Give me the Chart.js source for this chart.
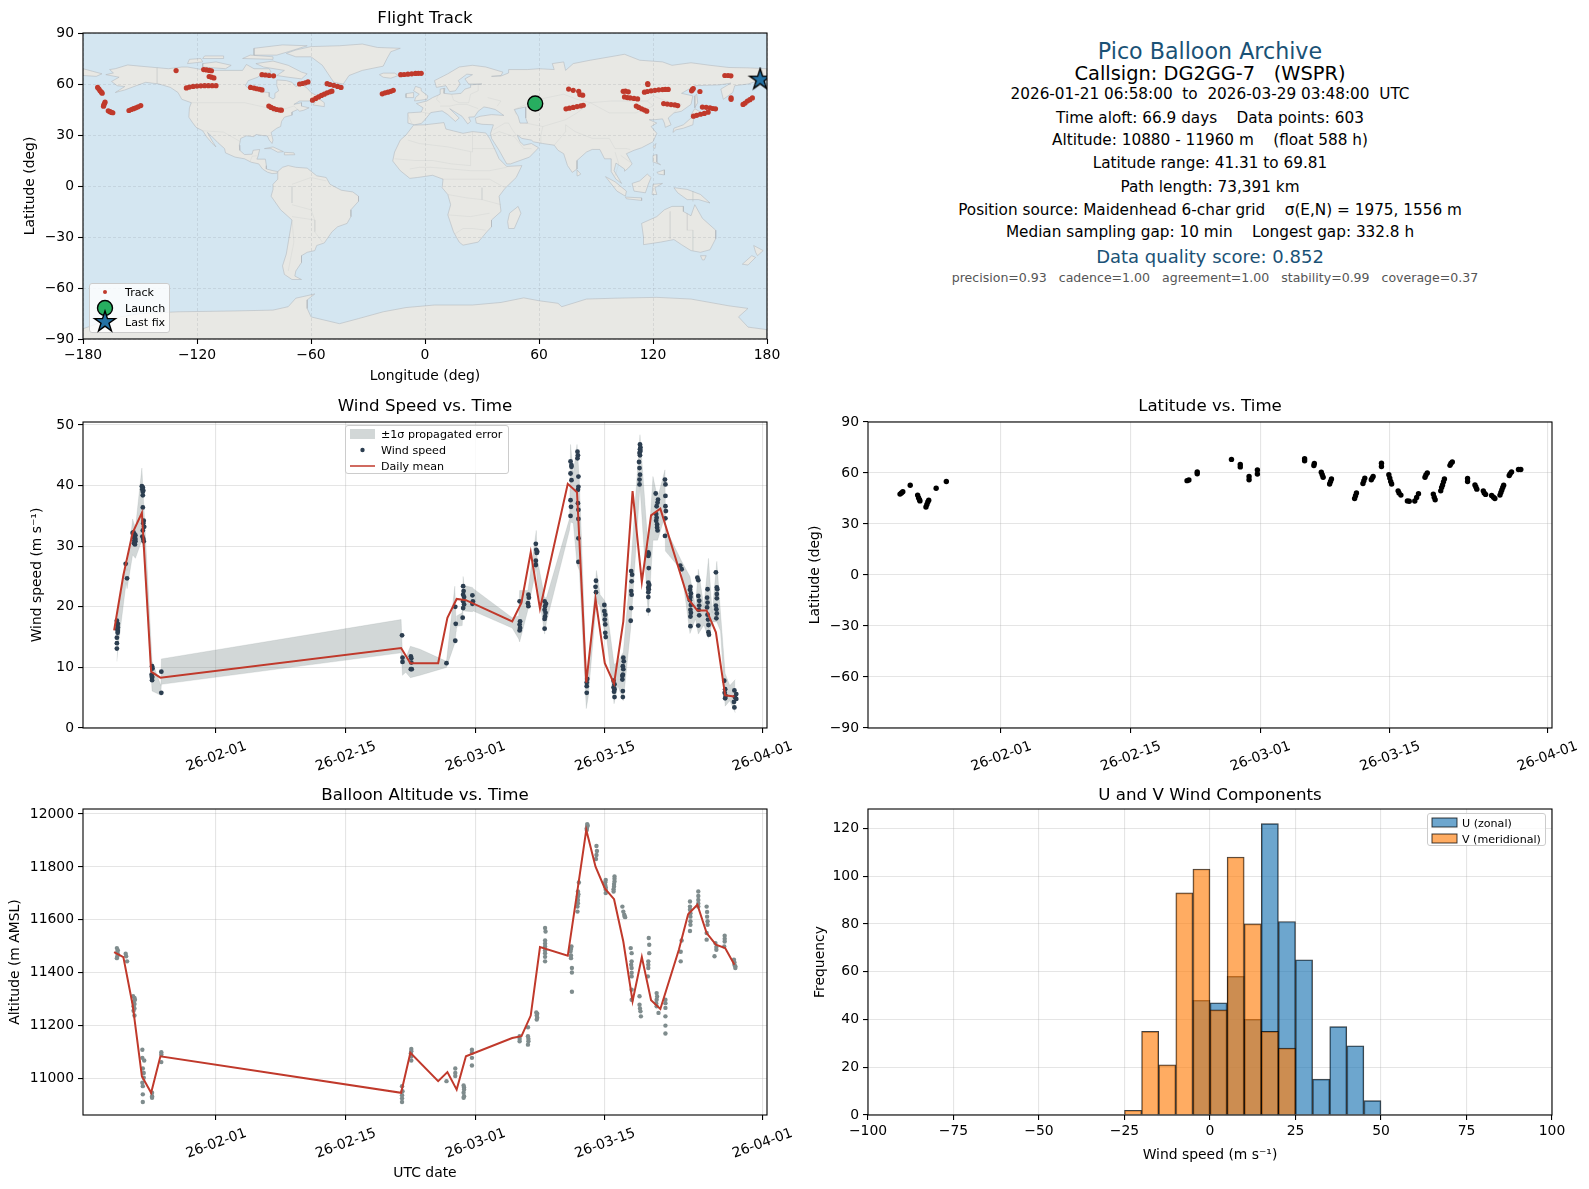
<!DOCTYPE html>
<html>
<head>
<meta charset="utf-8">
<title>Pico Balloon Archive</title>
<script src="https://cdn.jsdelivr.net/npm/chart.js@4/dist/chart.umd.min.js"></script>
<style>
html, body { margin: 0; padding: 0; background: #fff; overflow: hidden; }
#page { position: relative; width: 1589px; height: 1189px; font-family: "DejaVu Sans", sans-serif; overflow: hidden; }
canvas { position: absolute; }
.info { position: absolute; left: 868px; width: 684px; text-align: center; transform: translateY(-50%); white-space: pre; }
.legend { position: absolute; background: rgba(255,255,255,.8); border: 1px solid #ccc; border-radius: 3px; box-sizing: border-box; font-size: 11.1px; color: #000; }
.legend span { position: absolute; transform: translateY(-50%); white-space: nowrap; }
.legend svg { position: absolute; left: 0; top: 0; overflow: visible; }
</style>
</head>
<body>
<div id="page"></div>
<script>
// ---- data ----
const lonTicks = [-180, -120, -60, 0, 60, 120, 180];
const latTicks = [-90, -60, -30, 0, 30, 60, 90];
const dateTicks = [31, 45, 59, 73, 90]; // days since 2026-01-01
const dateLabels = ['26-02-01', '26-02-15', '26-03-01', '26-03-15', '26-04-01'];
const windTicks = [0, 10, 20, 30, 40, 50];
const altTicks = [11000, 11200, 11400, 11600, 11800, 12000];
const histXTicks = [-100, -75, -50, -25, 0, 25, 50, 75, 100];
const histYTicks = [0, 20, 40, 60, 80, 100, 120];

// flight track, [lon, lat]
const trackPoints = [
  [-172.3,58],[-171.6,57],[-171,56],[-170.3,55.2],[-169.9,54.6],
  [-168.4,49.3],[-168.7,48.5],[-169.1,47.6],[-169.2,46.9],
  [-166.7,44.2],[-165.8,43.7],[-165,43.3],[-164.3,43.1],
  [-155.8,44.4],[-154.6,45],[-153.4,45.5],[-152.2,46],[-151,46.6],[-149.6,47.3],
  [-131,67.9],
  [-116.5,68.5],[-115,68.3],[-113.5,68],[-112.4,67.8],
  [-113.6,64.4],[-112.4,64],[-111.1,63.6],
  [-125.6,57.7],[-124,58.2],[-122,58.6],[-120,58.8],[-118,58.9],[-116,59],[-114,59],[-112,59],[-110,59],
  [-91.8,58],[-90,57.6],[-88.5,57.2],[-87,56.9],[-85.8,56.5],
  [-85.8,65.5],[-84,65.3],[-82,65],[-79.7,64.8],
  [-82.2,47],[-81,46.2],[-79.5,45.5],[-78,45],[-76.5,44.7],[-75.6,44.6],
  [-66,60],[-64.5,60.3],[-63,60.7],[-61.6,61.2],
  [-59.2,50.5],[-57.5,51.5],[-56,52.4],[-54.5,53.3],[-53,54],[-51.5,54.8],[-50,55.4],[-49,55.8],
  [-51.5,60.2],[-50,59.7],[-48,59.2],[-46,58.6],[-44.2,58],
  [-22.5,54.2],[-21,54.8],[-19.5,55.2],[-18,55.7],[-16.7,56.3],
  [-12.8,65.5],[-11,65.6],[-9,65.8],[-7,66],[-5,66.2],[-3.5,66.3],[-2,66.3],
  [74.2,45.4],[76,45.8],[78,46.2],[80,46.7],[82,47.1],[83.3,47.5],
  [75.6,57],[78,56.3],[80.9,55.7],[81.5,53.8],[83,53.4],
  [104.3,55.7],[105.5,55.8],[107,55.4],
  [105,52.4],[106.5,52],[108,51.8],[110,51.5],[111.9,51.2],
  [111.2,47],[112.5,46.2],[114,45.4],[115.5,44.7],[116.7,44],
  [117.2,60.3],[117.3,59.7],
  [115.5,55.2],[117,55.6],[119,56],[121,56.3],[123,56.6],[125,56.7],[126.5,56.8],[128,56.8],
  [125.6,48.5],[127.5,48.2],[129.5,47.9],[131.5,47.7],[133,47.3],
  [140.3,56],[140.8,56.8],[141.2,57.3],[144.7,55.6],
  [146,46.4],[148,46.3],[150,46],[151.5,45.6],[152.9,45.4],
  [141.3,41.1],[143,41.6],[145,42.2],[147,42.7],[149,43.4],
  [161.1,51.9],[161.1,51],
  [157.8,65],[159.5,65],[161,64.8],
  [167.4,48],[168.5,48.8],[169.7,50],[171,50.8],[172.3,51.8]
];
const launchPoint = [[58, 48.5]];
const lastFixPoint = [[176.4, 62.6]];

// coastlines, [lon, lat]
const northAmerica = [[-168,65.5],[-164,66.5],[-166,68.5],[-163,69],[-156.5,71.2],[-150,70.5],[-141,69.6],[-135,69],[-128,70],[-125,70],[-115,68],[-108,68],[-100,68],[-96,68],[-94,71.5],[-90,69],[-86,69],[-82,69],[-81,67],[-86,66],[-88,64],[-93,62],[-94.5,59],[-92.5,57],[-88,56.5],[-85,55.3],[-82,55],[-82,52.5],[-80,51.2],[-79,52],[-79,54.5],[-77,56],[-78,59],[-78,62.4],[-73,62],[-70,61],[-68,58.5],[-65,60],[-62,57.5],[-60,55],[-56,52.5],[-60,50],[-66,50],[-69,48],[-65,49],[-65,47],[-61,46],[-64,44.5],[-66,44],[-67,45],[-70,43.5],[-70,41.7],[-74,40.5],[-75.5,38],[-76,35],[-78,34],[-81,31.5],[-80,27],[-80.5,25],[-82,27],[-83,29.5],[-85,29.6],[-89,30.3],[-90,29],[-94,29.5],[-97,28],[-97.7,24],[-97.5,21],[-95,18.5],[-91,18.7],[-90.5,21],[-87,21.5],[-88,17],[-88.5,15.8],[-84,15.8],[-83.5,12],[-83.5,10],[-80,9],[-77.5,8.5],[-78,7.5],[-80.5,7.3],[-83,8.2],[-85.5,10],[-87.5,13],[-91.5,14],[-95,16],[-100,17],[-105,19.5],[-105.5,22],[-109,25.5],[-112.5,29.5],[-114.5,31.5],[-112,26.5],[-110,23],[-112,25],[-115,29],[-117,32.5],[-120.5,34.5],[-122.5,37.5],[-124.3,40.5],[-124,46],[-123,49],[-128,51],[-130,55],[-134,58],[-140,60],[-147,61],[-152,59],[-158,56.5],[-163,55],[-158,58.5],[-162,59],[-165,61.5],[-161,64]];
const greenland = [[-73,78],[-68,76],[-60,76],[-54,71],[-51,66],[-48,61],[-43,60],[-40,65],[-33,68],[-22,70.5],[-20,75],[-18,79],[-13,81],[-25,81.5],[-33,83.5],[-45,82.5],[-60,82],[-68,80]];
const baffin = [[-80,73.5],[-72,71],[-65,67],[-62,66],[-65,63],[-72,64],[-78,65],[-74,68],[-85,70],[-89,72]];
const victoria = [[-117,70],[-105,69],[-102,71],[-110,73],[-117,72]];
const ellesmere = [[-90,77],[-78,77],[-72,79],[-62,82.5],[-75,83],[-90,81]];
const banks = [[-125,72],[-117,73],[-118,75],[-124,74.5]];
const devon = [[-96,75],[-80,74.5],[-80,76],[-92,77]];
const melville = [[-117,75],[-106,75],[-106,76.5],[-116,76.5]];
const newfoundland = [[-59,47.7],[-53,46.7],[-53,49],[-56,51.5]];
const iceland = [[-24,65.5],[-22,64],[-18,63.4],[-14,65],[-16,66.4],[-22,66.4]];
const cuba = [[-84.5,22],[-80,23],[-74.5,20.2],[-77.5,19.9],[-81,22]];
const hispaniola = [[-74,19.8],[-69,19.5],[-68.5,18.4],[-74,18.3]];
const britain = [[-5.5,50],[1,51],[1.5,53],[-2,56],[-2,57.5],[-5,58.6],[-6,56],[-3,54],[-5,52]];
const ireland = [[-10,52],[-6,52],[-6,55],[-10,54.3]];
const southAmerica = [[-77.5,8.5],[-75,11],[-72,12],[-68,11],[-62,10.5],[-57,6],[-52,5],[-50,1],[-44,-2.5],[-38,-3.5],[-35,-6],[-35,-9],[-39,-14],[-39,-18],[-41,-22],[-46,-24],[-49,-27],[-53,-33.5],[-57,-35],[-58,-38],[-62,-39],[-65,-41],[-65,-45],[-68,-50],[-68.5,-53],[-65,-55],[-70,-55],[-74,-52],[-75,-47],[-73,-40],[-71.5,-30],[-70,-20],[-76,-14],[-81,-6],[-80,-2],[-80,1],[-77.5,4]];
const africa = [[-6,35.8],[0,36],[10,37.3],[11,33.5],[15,32.4],[20,31],[25,32],[32,31.2],[34,28],[37,21],[39,16],[43,11.5],[51,12],[48,5],[42,-1.5],[39,-6],[40,-15],[35,-20],[35,-24],[32.5,-27],[28,-33],[20,-34.8],[18,-33],[15,-27],[12,-17],[13.5,-11],[12,-5],[9,-1],[9.5,4],[4,6.3],[-4,5],[-8,4.5],[-13,9],[-17,14.7],[-16,20],[-13,27],[-10,30]];
const madagascar = [[49,-12],[50.5,-16],[47,-25],[44,-25],[43.5,-21],[44.5,-16]];
const eurasia = [[-9,37],[-9,43],[-2,43.5],[-1,46],[-4.5,48.5],[1,50],[4,52],[8,54],[8,57],[10.5,57.5],[10,54.5],[14,54],[19,54.5],[21,57],[24,58],[24,59.5],[30,60],[23,60],[21,63],[25,65.5],[22,65.8],[17.5,62],[18.5,60],[16,56],[13,55.5],[11,59],[6,58],[5,62],[12,66],[18,70],[25,71],[32,70],[41,67],[40,65],[35,64.5],[40,64.7],[44,66.5],[44,68.5],[54,68.5],[60,69],[68,68.5],[67,72],[73,73],[74,68],[78,72],[87,74],[100,76.5],[105,77.5],[113,74],[125,73],[130,71],[140,72.5],[150,71],[160,69.7],[170,69.5],[180,69],[180,65],[177,62.5],[170,60],[163,59],[162,55],[157,51],[155.7,57],[161,60.5],[155,59.5],[142,59],[135,54.5],[141,53],[140,48],[135,44],[131,43],[128,40],[129.5,36],[126.5,34.5],[126,37],[125,39.5],[121,39],[118,39],[122,37],[119,35],[122,31],[120,26],[114,22.5],[110,21],[106,19],[109,13],[107,10.5],[105,8.7],[105,10],[100.5,13.5],[99.5,9],[103.5,1.5],[100.5,4],[98,8.5],[98,16],[94.5,16],[92,21.5],[88,21.5],[85,20],[80,15],[80,10],[77.5,8],[75,12],[73,19],[70,21],[68,24],[62,25],[57,26],[56,27],[51,28],[48.5,30],[50,26],[52,24],[56,25],[59.8,22.5],[55,17],[45,13],[43,13],[39,21],[35,28],[34.5,31],[36,36],[30,36.3],[27,37],[26.5,40],[29,41],[35,42],[41.5,41.5],[37,45],[33.5,46],[31,46.5],[28,44],[26,40.7],[23,40.5],[24,38],[22.5,36.5],[19.5,41],[13,45.5],[18,40],[16,38],[12,42],[9,44.2],[3,43.2],[0,39],[-2,36.8],[-5.5,36]];
const chukotkaTip = [[-180,69],[-175,67.5],[-170,66],[-173,64.5],[-180,65]];
const honshu = [[130.5,31.5],[131,34],[136,36],[140,40],[141.5,41],[141,36],[136,34],[132,33]];
const hokkaido = [[140,42],[142,45.5],[145,43.5],[141.5,42]];
const sakhalin = [[142,46],[143.5,49],[143,54],[142,53]];
const taiwan = [[120,23],[121.5,25],[121,22]];
const luzon = [[120,18],[122,18.5],[122,14],[124,12.5],[120.5,14]];
const mindanao = [[122,8],[126,9.5],[126,6.5],[123,7]];
const borneo = [[109,1.5],[113,3],[117,7],[119,5],[117.5,1],[116,-4],[110,-3]];
const sumatra = [[95,5.5],[100,2.5],[106,-3],[105.5,-6],[101,-3]];
const java = [[105.5,-6.5],[114,-7],[114,-8.5],[106,-7.5]];
const sulawesi = [[119.5,-5],[120,1],[125,1.5],[121,-1],[122,-5]];
const newGuinea = [[131,-1],[138,-2],[145,-5],[150,-10],[144,-8],[138,-8],[133,-4]];
const australia = [[114,-22],[122,-18],[126,-14],[130,-12],[136,-12],[136,-15],[140,-17.5],[142,-11],[146,-19],[153,-26],[153,-31],[150,-37.5],[145,-39],[140,-38],[135,-34.5],[131,-31.5],[124,-33],[115,-34.5],[115,-30]];
const tasmania = [[145,-41],[148,-41],[147,-43.5],[146,-43.5]];
const nzNorth = [[173,-35],[178,-38],[175,-41],[174,-39]];
const nzSouth = [[172,-41],[174,-42],[170,-46.5],[167,-46]];
const sriLanka = [[80,9.5],[82,7],[80.5,6]];
const antarctica = [[-180,-84],[-165,-78],[-150,-75],[-130,-74],[-100,-73.5],[-80,-73],[-72,-71],[-68,-66],[-58,-63.5],[-62,-67],[-62,-72],[-60,-77],[-45,-81],[-35,-78],[-22,-74],[-10,-71.5],[5,-70],[25,-70],[40,-68.5],[52,-65.8],[60,-67.5],[70,-69],[72,-71],[85,-66.5],[100,-66],[122,-65.5],[140,-66.5],[160,-70.5],[170,-72],[165,-77],[170,-83],[180,-84.5],[180,-90],[-180,-90]];
const landMasses = [northAmerica, greenland, baffin, victoria, ellesmere, banks, devon, melville, newfoundland, iceland, cuba, hispaniola, britain, ireland, southAmerica, africa, madagascar, eurasia, chukotkaTip, honshu, hokkaido, sakhalin, taiwan, luzon, mindanao, borneo, sumatra, java, sulawesi, newGuinea, australia, tasmania, nzNorth, nzSouth, sriLanka, antarctica];
const caspian = [[47,45],[53,46.5],[53,40],[54,37],[50,37],[49,41]];
const borderLines = [
  [[-123,49],[-95,49],[-83,46],[-79,43],[-75,45],[-69,47],[-67,45]],
  [[-141,69.6],[-141,60]],
  [[-117,32.5],[-106,31.7],[-97,26]],
  [[-92,14.5],[-91,17.5],[-88.5,17.8]],
  [[-70,-18],[-58,-20],[-58,-27],[-54,-33]],
  [[-70,-20],[-69,-33],[-72,-50]],
  [[-70,-11],[-60,-14],[-58,-20]],
  [[-70,0],[-70,-10]],[[-70,1],[-60,5],[-52,3]],
  [[-9,42],[-7,37]],[[-2,43.5],[3,42.5]],[[8,49],[6,51],[7,53.5]],[[14,54],[15,50.5],[18,49],[23,49],[24,54],[28,56],[28,60]],
  [[8,47],[13,47],[17,48],[22,48],[28,45.5]],
  [[33,52],[40,50],[38,47]],
  [[48,42],[47,45],[49,46],[60,51],[73,54],[80,51],[87,49],[98,50],[107,50],[117,50],[120,53],[127,50],[135,48],[131,43]],
  [[87,49],[80,43],[74,39],[62,35],[53,37]],
  [[87,49],[97,43],[111,43],[120,47],[117,50]],
  [[74,36],[79,32],[88,28],[97,28],[100,22],[106,22],[108,21.5]],
  [[61,25],[61,30],[62,35]],[[68,24],[71,28],[74,32],[74,36]],[[44,37],[46,33],[48,30]],[[36,33],[42,37],[44,37]],[[35,30],[39,32],[47,29],[52,22],[56,22]],
  [[-9,27],[-3,25],[12,23],[25,20],[25,32]],[[25,22],[37,22]],[[-16,16],[-5,15],[4,15],[14,13],[24,12],[24,20]],
  [[-8,10],[-3,11],[3,11],[14,10],[24,9],[34,9],[43,11]],[[9,4],[15,4],[28,4],[34,4],[42,-1]],
  [[12,-5],[22,-7],[30,-8],[40,-11]],[[12,-17],[24,-18],[34,-16]],[[16,-28],[20,-25],[25,-25],[32,-26]],[[30,-1],[30,-8]],
  [[129,-15],[129,-31]],[[138,-16],[138,-26],[141,-26],[141,-38]],[[141,-3],[141,-9]],
  [[100,6],[102,13],[100,20]],[[103,18],[108,14]]
];

// wind speed vs. time, [day, m/s]
const windPoints = [
  [20.3,17.7],[20.4,17.2],[20.35,17],[20.4,16.6],[20.35,16.3],[20.4,16],[20.38,15.7],[20.3,14.9],[20.3,14],[20.3,13.1],
  [21.25,27.1],[21.4,24.7],
  [22.0,32.2],[22.1,32.3],[22.2,32],[22.3,31.8],[22.15,31.5],[22.3,31.2],[22.2,31],[22.3,30.8],[22.15,30.5],[22.25,30.3],
  [23.0,39.9],[23.1,39.7],[23.05,39.4],[23.15,39.2],[23.1,39],[23.1,38.4],[23.1,36.4],[23.2,34.2],[23.15,33.8],[23.25,33.2],[23.1,32.6],[23.05,31.6],[23.15,31.2],[23.2,30.8],
  [24.1,10.2],[24.15,9.8],[24.05,8.8],[24.1,8.5],[24.1,8.3],[24.1,7.9],
  [25.1,9.3],[25.1,5.8],
  [51.1,15.3],[51.15,11.6],[51.15,10.9],[52.05,11.8],[52.1,11.5],[52.1,10.8],[52.05,9.7],[52.15,9.7],
  [55.9,10.7],
  [56.85,20],[56.9,17.2],[56.85,14.4],
  [57.7,23.4],[57.75,22.6],[57.7,22],[57.8,21.6],[57.7,20.9],[57.8,20.4],[57.7,19.8],[57.65,18.2],
  [58.7,21.9],[58.75,20.9],[58.7,20.5],
  [63.8,20.9],[63.85,17.6],[63.8,17.1],[63.85,16.5],[63.8,16.1],
  [64.75,22],[64.8,21.5],[64.7,20.6],[64.75,20.1],
  [65.55,30.4],[65.6,29.4],[65.7,29.1],[65.65,28.9],[65.55,27.6],[65.55,26.9],
  [66.5,20.9],[66.65,20.5],[66.55,20.1],[66.5,19.5],[66.6,19],[66.55,18.4],[66.5,18],[66.5,16.4],
  [69.3,44],[69.4,43.4],[69.4,43.1],[69.3,42],[69.4,40.9],[69.3,37.6],[69.35,36.5],[69.3,35],
  [70.05,45.6],[70.1,45],[70.05,44.5],[70.15,41.5],[70.15,39.8],[70.1,39.3],[70.1,37.1],[70.15,36],[70.15,34.5],[70.15,31.3],[70.15,27.4],
  [71.1,8.1],[71.05,7.5],[71.05,6.9],[71.05,5.8],
  [72.05,24.3],[72,23.3],[72.05,22.4],
  [72.95,20.3],[72.95,19.3],[73.05,18.7],[73,17.9],[73.05,17.1],[73.05,15.7],[73.1,15],
  [73.95,7.8],[74.05,7.2],[73.95,6.7],[74.05,6.4],[74,6],[74.05,5.1],
  [75,11.6],[75.05,11],[74.95,10.2],[75,9.7],[74.95,8.8],[74.9,8.6],[74.9,8],[74.95,6.1],[74.95,5.1],
  [75.85,25.9],[75.95,25.3],[75.9,24.2],[75.85,22.6],[75.9,22],[75.85,19.8],[75.8,17.7],
  [76.8,46.8],[76.85,46.3],[76.8,46],[76.85,45.7],[76.75,45.4],[76.8,45],[76.7,43.9],[76.75,42.9],[76.8,41.8],[76.75,41],[76.75,40.2],
  [77.7,29],[77.75,28.7],[77.7,28.4],[77.75,26.4],[77.7,24],[77.8,23.6],[77.7,23.2],[77.75,22.9],[77.7,22.4],[77.7,21.6],[77.7,19.4],
  [78.5,38.7],[78.75,37.7],[78.7,37.2],[78.6,36.6],[78.55,35.3],[78.6,34.7],[78.55,34.2],[78.65,33.6],[78.65,33.1],[78.7,32.6],
  [79.5,41],[79.55,40.2],[79.55,38.3],[79.55,36.6],[79.6,35.8],[79.55,34.6],[79.5,31.7],
  [81.15,26.8],[81.3,26.2],
  [82.25,23.3],[82.2,22.8],[82.3,22.2],[82.25,21.6],[82.2,21.1],[82.3,20.3],[82.25,19.5],[82.3,19],[82.25,18.4],[82.25,16.8],
  [83,24.8],[83.1,24.4],[83.1,21.8],[83.2,21],[83.2,20.2],[83.15,19.5],[83.2,18.6],[83.1,16.9],
  [84.1,22.9],[84.05,21.5],[84.1,20.7],[84.05,19.9],[84.1,18.7],[84.15,17.9],[84.2,17],[84.2,15.8],[84.25,15.4],
  [85,25.7],[85.1,23.2],[85.15,22.9],[85.1,22.1],[85.1,21.4],[85,20.2],[85.05,19.6],[85.1,18.9],[85.05,18.1],
  [85.9,7.8],[86,6.4],[85.95,5.8],[86.05,5.3],[86,4.9],
  [87,6.2],[87.2,5.6],[87.05,5.1],[87.2,4.8],[86.95,4.3],[87,3.4]
];
// daily mean wind, one value per day with data
const windMeanDays = [20,21,22,23,24,25,51,52,55,56,57,58,63,64,65,66,69,70,71,72,73,74,75,76,77,78,79,82,83,84,85,86,87];
const windMean = [16.1,25.2,32.2,35.5,9.3,8.3,13.2,10.7,10.7,18.2,21.3,21.1,17.6,20.7,29,19.7,40.3,38.9,7.5,21.3,10.7,7.3,17.6,39.1,24.1,35.1,36.2,21.3,19.4,19.4,15.8,5.4,5.2];
// propagated error band
const bandDays = [20.3,20.4,21.3,21.4,22.0,22.3,23.0,23.2,24.1,25.05,25.1,51.0,51.15,51.5,52.0,53.04,55.9,56.8,56.95,57.0,57.6,57.7,57.8,58.7,58.8,63.0,63.7,63.8,64.7,65.6,65.7,66.5,66.7,69.2,69.3,69.6,70,70.25,71,71.2,72.1,72.5,73,73.2,74,74.4,75,75.8,76.8,77.7,78.2,78.7,79.5,79.55,81.3,82.2,82.8,83.1,83.7,84.2,84.6,85.1,85.5,86,86.5,87.1];
const bandHi = [17.8,19,27.5,26,34.5,33,42.9,37,11,7,11.4,17.9,12,11.5,13.5,13,11,23.4,16.5,18.5,19,25,23.5,23.2,23,18.2,18.5,22.7,22.7,32.6,28,21.5,21.5,34.6,46.8,42,46.8,41,8.8,9,26,22,21,20,10.5,10.9,12.5,26.5,48.4,29.4,41.5,38,42.6,33,27.5,25,20,26.2,20,28,19,27.5,19,9,7,8];
const bandLo = [11,13,24,23,28.6,28,31,29,6.1,5.4,7.2,12.4,8.7,9.2,8.3,8.7,10,14,16,16.8,16.9,19.5,19.3,19.2,19.3,16.5,14.7,14.2,19.5,26.5,24,15.5,17.5,32.7,34,33.8,27,26,3.2,5,21,20,15.5,15,4,7,4.5,16.5,39.9,18.5,31,31,35,29.2,26,15.6,18,15.5,17,14.8,17.5,17.5,16,3.6,4.5,2.5];

// latitude vs. time, [day, deg]
const latPoints = [
  [20.1,47.6],[20.25,48.3],[20.4,49],[21.2,52.8],
  [22,47],[22.1,45.4],[22.2,44.3],[22.25,43.6],
  [22.9,40],[23,41.5],[23.1,43],[23.2,44],
  [24,51],[25.1,55],
  [51.1,55.5],[51.3,55.9],[52.2,59.6],[52.2,60.6],
  [55.9,68],[56.85,63.6],[56.85,65],[57.8,56],[57.8,58],[58.7,59.4],[58.7,61.8],
  [63.8,67.2],[63.8,68.4],[64.8,64.4],[64.85,65.6],
  [65.6,60.4],[65.7,59],[65.8,57.5],[66.5,53.5],[66.6,55],[66.7,56.5],
  [69.2,45],[69.3,46.6],[69.4,48.2],[70.1,53.8],[70.2,55.5],[70.3,57],[71,56],[71.1,57],[71.2,58],
  [72.1,63.8],[72.1,65.8],[72.9,59],[73,57],[73.1,55],[73.2,53.5],
  [73.9,49.5],[74,48.3],[74.2,47],[74.9,43.6],[75.1,43.4],[75.7,43.5],[75.9,45.6],[76.1,47.8],
  [76.8,57.5],[76.9,58.8],[77.05,60],[77.7,47.6],[77.8,45.8],[77.9,44.3],
  [78.5,49.5],[78.6,51.5],[78.7,53],[78.8,54.8],[78.9,56.5],[79.5,64.5],[79.6,65.6],[79.75,66.5],
  [81.4,55],[81.4,56.8],[82.2,53],[82.3,51.8],[82.4,50.5],[83.1,49.5],[83.2,48.3],[83.35,47.4],
  [84,46.8],[84.2,45.8],[84.35,45],[84.9,47],[85,48.5],[85.1,50],[85.2,51.5],[85.3,52.8],
  [85.9,58.5],[86,59.6],[86.15,60.6],[86.9,62.1],[87.15,62.1]
];

// altitude vs. time, [day, m]
const altPoints = [
  [20.3,11493],[20.4,11485],[20.35,11478],[20.4,11470],[20.35,11462],[20.3,11455],
  [21.25,11472],[21.3,11462],[21.4,11443],
  [22.05,11311],[22.2,11305],[22.25,11298],[22.1,11290],[22.2,11282],[22.1,11273],[22.2,11265],[22.1,11256],[22.2,11238],
  [23.05,11109],[23.05,11078],[23.25,11068],[23.1,11038],[23.2,11021],[23.2,11003],[23.05,10984],[23.1,10971],[23.1,10940],[23.1,10911],
  [24.1,10946],[24.1,10933],[24.1,10927],
  [25.1,11099],[25.1,11091],[25.1,11062],
  [51.1,10971],[51.15,10952],[51.1,10937],[51.1,10925],[51.1,10911],
  [52.1,11112],[52.1,11103],[52.05,11095],[52.1,11084],[52.1,11068],
  [55.9,10990],
  [56.85,11038],[56.85,11021],[56.85,11009],
  [57.75,10974],[57.8,10966],[57.8,10958],[57.75,10946],[57.8,10933],[57.75,10927],
  [58.65,11109],[58.65,11097],[58.65,11078],[58.65,11049],
  [63.8,11160],[63.8,11150],[63.8,11141],
  [64.7,11194],[64.7,11160],[64.75,11150],[64.75,11141],[64.7,11128],
  [65.6,11250],[65.7,11245],[65.65,11238],[65.7,11230],[65.65,11223],
  [66.55,11569],[66.6,11556],[66.55,11522],[66.55,11510],[66.55,11499],[66.55,11485],[66.55,11474],[66.55,11460],[66.55,11443],
  [69.4,11499],[69.35,11490],[69.3,11480],[69.35,11465],[69.35,11455],[69.45,11418],[69.45,11401],[69.45,11328],
  [70.2,11741],[70.1,11707],[70.15,11697],[70.1,11688],[70.1,11675],[70.1,11663],[70.05,11650],[70.05,11631],
  [71.1,11962],[71.15,11957],[71.1,11952],[71.05,11946],[71.05,11940],
  [72.1,11879],[72.15,11860],[72.1,11845],[72.05,11830],
  [73.1,11751],[73.05,11742],[73.05,11732],[73.1,11723],[73.1,11714],[73.1,11701],
  [74.05,11764],[74.05,11755],[74.05,11745],[74,11735],[74,11726],[73.95,11716],[73.95,11707],
  [74.9,11650],[75,11631],[75.1,11619],[75.15,11613],[75.2,11610],
  [75.8,11493],[75.9,11474],[75.9,11443],[75.85,11430],[75.9,11418],[75.9,11400],[75.9,11386],[75.9,11336],[75.9,11298],
  [76.75,11311],[76.75,11279],[76.8,11265],[76.85,11254],[76.9,11235],
  [77.75,11531],[77.8,11506],[77.8,11474],[77.7,11443],[77.7,11430],[77.7,11418],[77.65,11386],
  [78.6,11323],[78.65,11310],[78.6,11298],[78.55,11285],[78.6,11273],[78.8,11248],
  [79.55,11298],[79.55,11285],[79.55,11267],[79.55,11235],[79.55,11200],[79.55,11170],
  [81.3,11522],[81.2,11479],[81.2,11443],
  [82.2,11669],[82.2,11650],[82.2,11638],[82.25,11625],[82.25,11612],[82.25,11595],[82.25,11581],[82.2,11558],
  [83.1,11707],[83.1,11690],[83.1,11675],[83.1,11662],[83.1,11650],
  [84,11650],[84.05,11630],[84.05,11612],[84.1,11595],[84.1,11581],[84,11550],[84,11525],
  [84.95,11512],[85.05,11497],[85.05,11487],[84.85,11462],
  [85.95,11540],[85.95,11528],[85.95,11518],[85.9,11499],
  [86.95,11449],[87,11440],[87,11430],[87.1,11424],[87.1,11418]
];
const altMeanDays = [20,21,22,23,24,25,51,52,55,56,57,58,63,64,65,66,69,70,71,72,73,74,75,76,77,78,79,81,82,83,84,85,86,87];
const altMean = [11478,11459,11279,11009,10946,11084,10946,11097,10990,11024,10958,11084,11153,11160,11238,11497,11464,11700,11940,11801,11719,11678,11518,11292,11459,11296,11263,11487,11621,11657,11550,11506,11493,11430];

// wind component histogram, 5 m/s bins
const binCentres = [-22.5,-17.5,-12.5,-7.5,-2.5,2.5,7.5,12.5,17.5,22.5,27.5,32.5,37.5,42.5,47.5];
const uCounts = [0,0,0,0,48,47,58,40,122,81,65,15,37,29,6];
const vCounts = [2,35,21,93,103,44,108,80,35,28,0,0,0,0,0];

const infoLines = [
  ['Pico Balloon Archive', 50.7, 22.2, '#1a5276', 0],
  ['Callsign: DG2GG-7   (WSPR)', 73, 19.4, '#000', 0],
  ['2026-01-21 06:58:00  to  2026-03-29 03:48:00  UTC', 94.2, 15.28, '#000', 0],
  ['Time aloft: 66.9 days    Data points: 603', 117.6, 15.28, '#000', 0],
  ['Altitude: 10880 - 11960 m    (float 588 h)', 139.8, 15.28, '#000', 0],
  ['Latitude range: 41.31 to 69.81', 163, 15.28, '#000', 0],
  ['Path length: 73,391 km', 186.5, 15.28, '#000', 0],
  ['Position source: Maidenhead 6-char grid    \u03c3(E,N) = 1975, 1556 m', 209.8, 15.28, '#000', 0],
  ['Median sampling gap: 10 min    Longest gap: 332.8 h', 232, 15.28, '#000', 0],
  ['Data quality score: 0.852', 256.4, 18, '#1a5276', 0],
  ['precision=0.93   cadence=1.00   agreement=1.00   stability=0.99   coverage=0.37', 277, 12.55, '#555', 5]
];

// ---- colours ----
const RED = '#c0392b';
const NAVY = '#2c3e50';
const GREY = '#7f8c8d';
const BAND = 'rgba(127,140,141,0.35)';
const OCEAN = '#d4e6f1';
const LAND = '#e8e8e4';
const GREEN = '#27ae60';
const STAR = '#2471a3';

Chart.defaults.font.family = '"DejaVu Sans", sans-serif';
Chart.defaults.color = '#000';
Chart.defaults.animation = false;

const page = document.getElementById('page');
const PLOT_W = 684, PLOT_H = 306, LEFT = 83, TITLE_H = 32, BELOW = 62, RIGHT_PAD = 36;
const COLS = [83, 868];
const ROWS = [33, 422, 809];
const TITLE_TOP = [7.4, 6.6, 8.7];

const xy = pts => pts.map(p => ({ x: p[0], y: p[1] }));
const zipXY = (xs, ys) => xs.map((x, i) => ({ x: x, y: ys[i] }));
const minus = v => String(v).replace('-', '\u2212');

function frame() {
  return {
    id: 'frame',
    afterDraw(chart) {
      const a = chart.chartArea, c = chart.ctx;
      c.save();
      c.strokeStyle = '#000';
      c.lineWidth = 1.1;
      c.strokeRect(a.left, a.top, a.right - a.left, a.bottom - a.top);
      c.restore();
    }
  };
}

const ocean = {
  id: 'ocean',
  beforeDraw(chart) {
    const a = chart.chartArea;
    chart.ctx.fillStyle = OCEAN;
    chart.ctx.fillRect(a.left, a.top, a.right - a.left, a.bottom - a.top);
  }
};

function axis(o) {
  const horizontal = o.horizontal;
  const ax = {
    type: 'linear',
    min: o.min,
    max: o.max,
    offset: false,
    afterBuildTicks(s) { s.ticks = o.ticks.map(v => ({ value: v })); },
    afterFit(s) {
      if (horizontal) { s.height = BELOW; s.paddingLeft = 0; s.paddingRight = 0; }
      else { s.width = LEFT; s.paddingTop = 0; s.paddingBottom = 0; }
    },
    grid: { color: 'rgba(176,176,176,0.33)', lineWidth: 1.1, tickColor: '#000', tickLength: 5, tickWidth: 1.1, offset: false },
    border: { display: false },
    ticks: {
      autoSkip: false,
      font: { size: 13.9 },
      padding: horizontal ? 3 : 4,
      maxRotation: 0,
      minRotation: 0,
      callback: o.label || minus
    }
  };
  if (o.title) {
    const lh = 16;
    ax.title = { display: true, text: o.title, font: { size: 13.9, lineHeight: lh / 13.9 }, color: '#000',
      padding: horizontal ? { top: 0, bottom: BELOW - o.titleAt - lh / 2 } : { top: o.titleAt - lh / 2, bottom: 0 } };
  }
  return ax;
}

function dateAxis(title, titleAt) {
  const ax = axis({
    horizontal: true, min: 16.64, max: 90.52, ticks: dateTicks, title: title, titleAt: titleAt,
    label: v => dateLabels[dateTicks.indexOf(v)]
  });
  ax.ticks.minRotation = 20;
  ax.ticks.maxRotation = 20;
  ax.ticks.labelOffset = 30;
  ax.ticks.padding = 5;
  return ax;
}

function panel(col, row, titleText, datasets, xAxis, yAxis, extra, type) {
  const cv = document.createElement('canvas');
  const w = LEFT + PLOT_W + RIGHT_PAD, h = TITLE_H + PLOT_H + BELOW;
  cv.width = w; cv.height = h;
  cv.style.left = (COLS[col] - LEFT) + 'px';
  cv.style.top = (ROWS[row] - TITLE_H) + 'px';
  cv.style.width = w + 'px'; cv.style.height = h + 'px';
  page.appendChild(cv);
  return new Chart(cv, {
    type: type || 'line',
    data: { datasets: datasets },
    plugins: (extra || []).concat([frame()]),
    options: {
      responsive: false,
      devicePixelRatio: 1,
      layout: { autoPadding: false, padding: { right: RIGHT_PAD } },
      elements: { line: { tension: 0 } },
      scales: { x: xAxis, y: yAxis },
      plugins: {
        legend: { display: false },
        tooltip: { enabled: false },
        title: {
          display: true, text: titleText, color: '#000', fullSize: false,
          font: { size: 16.67, weight: 'normal', lineHeight: 1.2 },
          padding: { top: TITLE_TOP[row], bottom: 12 - TITLE_TOP[row] }
        }
      }
    }
  });
}

function scatterSet(label, pts, colour, radius, order) {
  return { label: label, data: xy(pts), showLine: false, pointRadius: radius, pointBackgroundColor: colour, pointBorderWidth: 0, order: order };
}

function lineSet(label, xs, ys, order) {
  return { label: label, data: zipXY(xs, ys), borderColor: RED, borderWidth: 2, pointRadius: 0, fill: false, order: order };
}

function starPath(cx, cy, r) {
  const pts = [];
  for (let i = 0; i < 10; i++) {
    const rr = i % 2 ? r * 0.382 : r;
    const a = -Math.PI / 2 + i * Math.PI / 5;
    pts.push([cx + rr * Math.cos(a), cy + rr * Math.sin(a)]);
  }
  return pts;
}

function starImage(r) {
  const c = document.createElement('canvas');
  c.width = c.height = 2 * r + 4;
  const g = c.getContext('2d');
  g.beginPath();
  starPath(r + 2, r + 2, r).forEach((p, i) => i ? g.lineTo(p[0], p[1]) : g.moveTo(p[0], p[1]));
  g.closePath();
  g.fillStyle = STAR;
  g.fill();
  g.lineWidth = 1.4;
  g.strokeStyle = '#000';
  g.stroke();
  return c;
}

// ---- flight track ----
const COAST = 'rgba(178,184,188,0.8)';
const mapSets = landMasses.map(m => ({
  data: xy(m.concat([m[0]])), fill: 'shape', backgroundColor: LAND, borderColor: COAST, borderWidth: 0.7, pointRadius: 0, order: 10
}));
mapSets.push({ data: xy(caspian.concat([caspian[0]])), fill: 'shape', backgroundColor: OCEAN, borderColor: COAST, borderWidth: 0.7, pointRadius: 0, order: 9 });
borderLines.forEach(b => mapSets.push({ data: xy(b), borderColor: 'rgba(190,195,196,0.4)', borderWidth: 0.6, pointRadius: 0, fill: false, order: 8 }));
mapSets.push(scatterSet('Track', trackPoints, RED, 2.6, 3));
mapSets.push({ label: 'Launch', data: xy(launchPoint), showLine: false, pointRadius: 7.5, pointBackgroundColor: GREEN, pointBorderColor: '#000', pointBorderWidth: 1.4, order: 2 });
mapSets.push({ label: 'Last fix', data: xy(lastFixPoint), showLine: false, pointStyle: starImage(11), order: 1 });

const lonAxis = axis({ horizontal: true, min: -180, max: 180, ticks: lonTicks, title: 'Longitude (deg)', titleAt: 37.5 });
const mapLatAxis = axis({ min: -90, max: 90, ticks: latTicks, title: 'Latitude (deg)', titleAt: 30.4 });
[lonAxis, mapLatAxis].forEach(a => {
  a.grid.z = 1;
  a.grid.color = 'rgba(120,130,140,0.25)';
  a.grid.lineWidth = 0.7;
  a.border.dash = [3, 2];
});
panel(0, 0, 'Flight Track', mapSets, lonAxis, mapLatAxis, [ocean]);

// ---- wind speed ----
panel(0, 1, 'Wind Speed vs. Time', [
  scatterSet('Wind speed', windPoints, NAVY, 2.4, 2),
  lineSet('Daily mean', windMeanDays, windMean, 1),
  { label: '\u00b11\u03c3 propagated error', data: zipXY(bandDays, bandHi), fill: '+1', backgroundColor: BAND, borderColor: 'rgba(127,140,141,0.2)', borderWidth: 0.8, pointRadius: 0, order: 5 },
  { data: zipXY(bandDays, bandLo), fill: false, borderColor: 'rgba(127,140,141,0.2)', borderWidth: 0.8, pointRadius: 0, order: 6 }
], dateAxis(), axis({ min: 0, max: 50.5, ticks: windTicks, title: 'Wind speed (m s\u207b\u00b9)', titleAt: 37.5 }));

// ---- latitude ----
panel(1, 1, 'Latitude vs. Time', [
  scatterSet('Latitude', latPoints, '#000', 2.7, 1)
], dateAxis(), axis({ min: -90, max: 90, ticks: latTicks, title: 'Latitude (deg)', titleAt: 30.8 }));

// ---- altitude ----
panel(0, 2, 'Balloon Altitude vs. Time', [
  scatterSet('Altitude', altPoints, GREY, 2.2, 2),
  lineSet('Daily mean', altMeanDays, altMean, 1)
], dateAxis('UTC date', 58.5), axis({ min: 10862, max: 12019, ticks: altTicks, title: 'Altitude (m AMSL)', titleAt: 15.2, label: v => String(v) }));

// ---- U and V histogram ----
function histSet(label, counts, colour, order) {
  return {
    label: label, data: zipXY(binCentres, counts).filter(d => d.y > 0), backgroundColor: colour, borderColor: 'rgba(0,0,0,0.75)', borderWidth: 1,
    categoryPercentage: 1, barPercentage: 1, grouped: false, order: order
  };
}
panel(1, 2, 'U and V Wind Components', [
  histSet('U (zonal)', uCounts, 'rgba(31,119,180,0.65)', 2),
  histSet('V (meridional)', vCounts, 'rgba(255,127,14,0.65)', 1)
], axis({ horizontal: true, min: -100, max: 100, ticks: histXTicks, title: 'Wind speed (m s\u207b\u00b9)', titleAt: 40 }),
   axis({ min: 0, max: 128.1, ticks: histYTicks, title: 'Frequency', titleAt: 35, label: v => String(v) }), [], 'bar');

// ---- summary text ----
infoLines.forEach(l => {
  const d = document.createElement('div');
  d.className = 'info';
  d.textContent = l[0];
  d.style.top = l[1] + 'px';
  d.style.fontSize = l[2] + 'px';
  d.style.color = l[3];
  d.style.marginLeft = l[4] + 'px';
  page.appendChild(d);
});

// ---- legends ----
function legend(x, y, w, h, svg, rows) {
  const box = document.createElement('div');
  box.className = 'legend';
  box.style.cssText = `left:${x}px;top:${y}px;width:${w}px;height:${h}px`;
  box.innerHTML = `<svg width="${w}" height="${h}">${svg}</svg>`;
  rows.forEach(r => {
    const s = document.createElement('span');
    s.textContent = r[0];
    s.style.left = r[1] + 'px';
    s.style.top = r[2] + 'px';
    box.appendChild(s);
  });
  page.appendChild(box);
}

const starPts = starPath(15, 38, 11).map(p => p.join(',')).join(' ');
legend(89, 283, 81, 50,
  `<circle cx="15" cy="8" r="2" fill="${RED}"/>` +
  `<circle cx="15" cy="24" r="7.5" fill="${GREEN}" stroke="#000" stroke-width="1.4"/>` +
  `<polygon points="${starPts}" fill="${STAR}" stroke="#000" stroke-width="1.4"/>`,
  [['Track', 35, 8], ['Launch', 35, 24], ['Last fix', 35, 38]]);

legend(345, 425, 164, 49,
  `<rect x="4" y="3" width="25" height="10" fill="${BAND}"/>` +
  `<circle cx="16.5" cy="24" r="2.2" fill="${NAVY}"/>` +
  `<line x1="4" y1="40" x2="29" y2="40" stroke="${RED}" stroke-width="1.5"/>`,
  [['\u00b11\u03c3 propagated error', 35, 8], ['Wind speed', 35, 24], ['Daily mean', 35, 40]]);

legend(1427, 813, 119, 33,
  `<rect x="4" y="4" width="25" height="9" fill="rgba(31,119,180,0.65)" stroke="rgba(0,0,0,0.75)"/>` +
  `<rect x="4" y="20" width="25" height="9" fill="rgba(255,127,14,0.65)" stroke="rgba(0,0,0,0.75)"/>`,
  [['U (zonal)', 34, 8.5], ['V (meridional)', 34, 24.5]]);
</script>
</body>
</html>
